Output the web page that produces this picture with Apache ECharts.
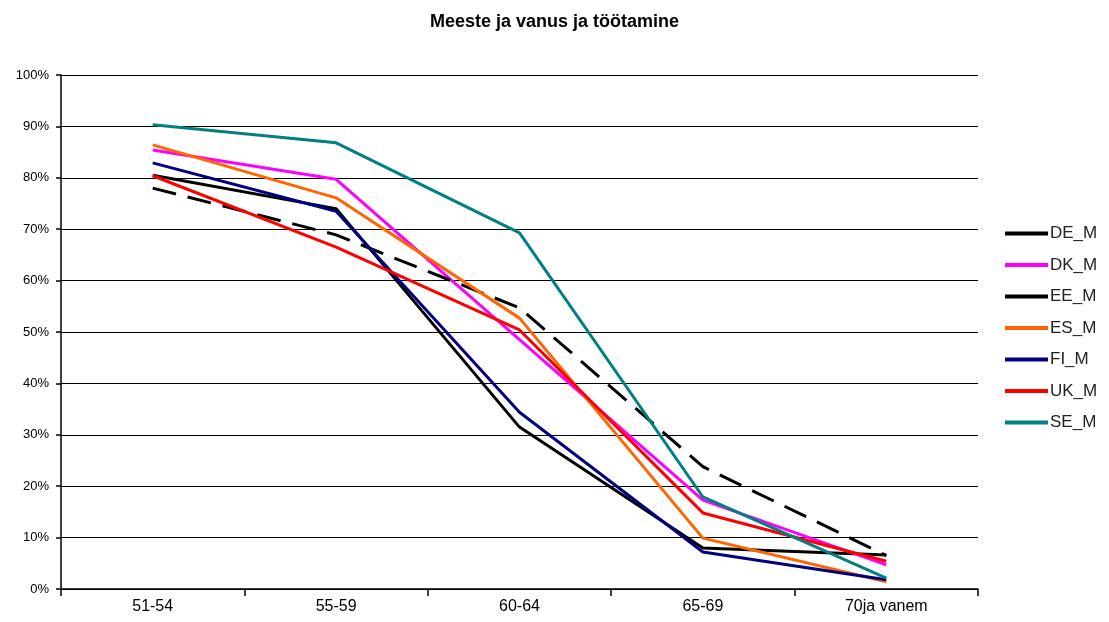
<!DOCTYPE html>
<html>
<head>
<meta charset="utf-8">
<script src="https://cdn.jsdelivr.net/npm/echarts@6/dist/echarts.min.js"></script>
<style>html,body{margin:0;padding:0;background:#fff}#c{width:1109px;height:622px}</style>
</head>
<body>
<div id="c"></div>
<script>
const categories = ['51-54', '55-59', '60-64', '65-69', '70ja vanem'];
const yTicks = [0, 10, 20, 30, 40, 50, 60, 70, 80, 90, 100];
const DE_M = [80.5, 74.0, 31.5, 8.0, 6.6];
const DK_M = [85.4, 79.7, 48.5, 17.3, 4.7];
const EE_M = [78.0, 68.9, 54.7, 23.8, 6.5];
const ES_M = [86.4, 76.1, 52.7, 9.9, 1.4];
const FI_M = [82.9, 73.5, 34.4, 7.2, 1.8];
const UK_M = [80.4, 66.5, 50.4, 14.8, 5.4];
const SE_M = [90.3, 86.8, 69.3, 17.9, 2.1];

const seriesDefs = [
  ['DE_M', DE_M, '#000000', 'solid'],
  ['DK_M', DK_M, '#ff00ff', 'solid'],
  ['EE_M', EE_M, '#000000', [24, 12]],
  ['ES_M', ES_M, '#ff6600', 'solid'],
  ['FI_M', FI_M, '#000080', 'solid'],
  ['UK_M', UK_M, '#ff0000', 'solid'],
  ['SE_M', SE_M, '#008080', 'solid']
];

const chart = echarts.init(document.getElementById('c'), null, {renderer: 'canvas'});
chart.setOption({
  animation: false,
  backgroundColor: '#ffffff',
  title: {
    text: 'Meeste ja vanus ja töötamine',
    left: 'center',
    top: 8,
    textStyle: {fontFamily: 'Liberation Sans, Arial', fontSize: 18, fontWeight: 'bold', color: '#000'}
  },
  grid: {left: 61, right: 131, top: 75, bottom: 33, containLabel: false},
  legend: {
    orient: 'vertical',
    left: 1000,
    top: 220,
    itemWidth: 43,
    itemHeight: 4,
    itemGap: 14.5,
    icon: 'rect',
    textStyle: {fontFamily: 'Liberation Sans, Arial', fontSize: 17, color: '#222', padding: [0, 0, 0, -3]},
    data: seriesDefs.map(s => s[0])
  },
  xAxis: {
    type: 'category',
    data: categories,
    boundaryGap: true,
    axisLine: {lineStyle: {color: '#000', width: 1.5}},
    axisTick: {show: true, length: 7, lineStyle: {color: '#000', width: 1.5}},
    axisLabel: {fontFamily: 'Liberation Sans, Arial', fontSize: 16, color: '#000', margin: 10},
    splitLine: {show: false}
  },
  yAxis: {
    type: 'value',
    min: 0,
    max: 100,
    interval: 10,
    axisLine: {show: true, lineStyle: {color: '#000', width: 1.5}},
    axisTick: {show: true, length: 5, lineStyle: {color: '#000', width: 1.5}},
    axisLabel: {fontFamily: 'Liberation Sans, Arial', fontSize: 13, color: '#000', margin: 12,
      formatter: v => yTicks.includes(v) ? v + '%' : ''},
    splitLine: {show: true, lineStyle: {color: '#000', width: 1.2}}
  },
  series: seriesDefs.map(([name, data, color, type]) => ({
    name: name,
    type: 'line',
    data: data,
    symbol: 'none',
    showSymbol: false,
    color: color,
    itemStyle: {color: color},
    lineStyle: {color: color, width: 3, type: type},
    z: 3
  }))
});
</script>
</body>
</html>
